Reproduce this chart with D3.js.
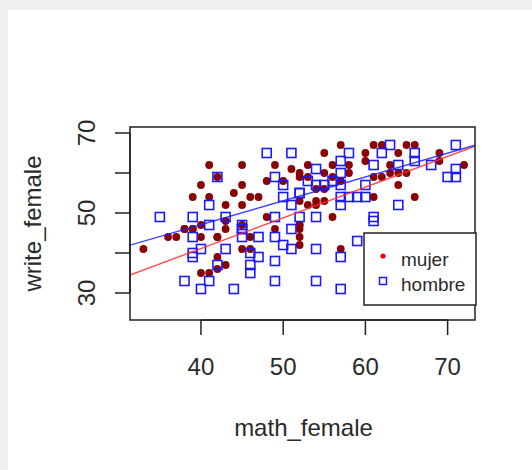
<!DOCTYPE html>
<html>
<head>
<meta charset="utf-8">
<script src="https://cdn.jsdelivr.net/npm/d3@7"></script>
<style>
  html, body { margin: 0; padding: 0; background: #efefef; }
  svg { display: block; }
  text { font-family: "Liberation Sans", Arial, sans-serif; fill: #2a2a2a; }
</style>
</head>
<body>
<script>
// ---- data ----
const mujerMath = [33,37,38,39,40,40,42,43,40,41,42,42,43,45,46,46,49,
  41,45,49,51,42,40,45,48,44,39,41,46,47,43,45,
  57,61,62,65,66,55,60,64,69,53,56,58,60,63,69,72,52,53,55,58,64,65,54,64,54,54,55,61,66,56,52,57,
  52,56,57,55,61,62,63,52,52,52,52,53,48,50,52,43,38,39,42,36,45];
const mujerWrite = [41,44,46,46,47,44,44,46,35,35,36,39,37,41,41,44,46,
  62,62,62,61,59,57,57,58,55,54,54,54,54,52,52,
  67,67,67,67,67,65,65,65,65,62,62,62,63,62,63,62,59,59,60,60,60,60,56,57,53,52,53,54,54,49,47,41,
  53,59,58,56,59,59,60,47,46,44,42,52,49,58,60,48,46,46,44,44,47];

const hombreMath = [48,51,42,49,50,52,41,35,39,43,49,45,51,
  63,71,58,62,66,57,61,64,66,68,54,57,70,71,71,54,57,60,55,52,57,58,59,60,57,64,61,54,52,
  39,39,40,39,38,40,41,42,43,44,45,45,46,46,46,47,47,49,49,49,50,51,51,
  54,57,59,54,57,61,41,45,53,56,50];
const hombreWrite = [65,65,59,59,57,55,52,49,49,49,49,47,52,
  67,67,65,65,65,63,62,62,63,62,61,60,59,59,61,57,57,57,57,55,54,54,54,54,52,52,49,49,49,
  44,40,41,39,33,31,33,37,41,31,46,44,40,37,35,44,39,44,38,33,42,41,46,
  41,39,43,33,31,48,47,46,58,58,54];

// regression lines (intercept, slope)
const lineGroups = ["mujer", "hombre"];
const lineIntercepts = [10.4, 23.3];
const lineSlopes = [0.768, 0.595];

const xTicks = [40, 50, 60, 70];
const yTicks = [30, 40, 50, 60, 70];
const yTickLabels = ["30", "", "50", "", "70"];
const legendLabels = ["mujer", "hombre"];

// ---- layout ----
const W = 532, H = 470;
const FS = 24;
const svg = d3.select("body").append("svg").attr("width", W).attr("height", H);
svg.append("rect").attr("width", W).attr("height", H).attr("fill", "#efefef");
svg.append("rect").attr("x", 8).attr("y", 10).attr("width", W - 8).attr("height", H - 10).attr("fill", "#fff");

const L = 130, R = 475, T = 127, B = 320;
const x = d3.scaleLinear().domain([31.37, 73.33]).range([L, R]);
const y = d3.scaleLinear().domain([23.25, 71.5]).range([B, T]);

svg.append("clipPath").attr("id", "clip").append("rect")
  .attr("x", L).attr("y", T).attr("width", R - L).attr("height", B - T);

const plot = svg.append("g").attr("clip-path", "url(#clip)");

// mujer points
plot.selectAll("circle.m").data(d3.range(mujerMath.length)).join("circle")
  .attr("class", "m")
  .attr("cx", i => x(mujerMath[i])).attr("cy", i => y(mujerWrite[i]))
  .attr("r", 3.9).attr("fill", "#8b0000");

// hombre points
const s = 9;
plot.selectAll("rect.h").data(d3.range(hombreMath.length)).join("rect")
  .attr("class", "h")
  .attr("x", i => x(hombreMath[i]) - s / 2).attr("y", i => y(hombreWrite[i]) - s / 2)
  .attr("width", s).attr("height", s)
  .attr("fill", "none").attr("stroke", "#1a1aff").attr("stroke-width", 1.6);

// regression lines
const lineColors = ["#ff3030", "#2020ff"];
const xd = x.domain();
lineGroups.forEach((g, i) => {
  plot.append("line")
    .attr("x1", x(xd[0])).attr("y1", y(lineIntercepts[i] + lineSlopes[i] * xd[0]))
    .attr("x2", x(xd[1])).attr("y2", y(lineIntercepts[i] + lineSlopes[i] * xd[1]))
    .attr("stroke", lineColors[i]).attr("stroke-width", 1.4).attr("opacity", 0.85);
});

// box
svg.append("rect").attr("x", L).attr("y", T).attr("width", R - L).attr("height", B - T)
  .attr("fill", "none").attr("stroke", "#222").attr("stroke-width", 1.5);

// x axis
const xAxis = svg.append("g");
xAxis.append("line").attr("x1", x(xTicks[0])).attr("x2", x(xTicks[xTicks.length - 1]))
  .attr("y1", B).attr("y2", B).attr("stroke", "#222").attr("stroke-width", 1.5);
xTicks.forEach(t => {
  xAxis.append("line").attr("x1", x(t)).attr("x2", x(t)).attr("y1", B).attr("y2", B + 15)
    .attr("stroke", "#222").attr("stroke-width", 1.5);
  xAxis.append("text").attr("x", x(t)).attr("y", 375).attr("text-anchor", "middle")
    .attr("font-size", FS).text(t);
});
svg.append("text").attr("x", (L + R) / 2 + 1).attr("y", 436).attr("text-anchor", "middle")
  .attr("font-size", FS).text("math_female");

// y axis
const yAxis = svg.append("g");
yAxis.append("line").attr("y1", y(yTicks[0])).attr("y2", y(yTicks[yTicks.length - 1]))
  .attr("x1", L).attr("x2", L).attr("stroke", "#222").attr("stroke-width", 1.5);
yTicks.forEach((t, i) => {
  yAxis.append("line").attr("y1", y(t)).attr("y2", y(t)).attr("x1", L - 15).attr("x2", L)
    .attr("stroke", "#222").attr("stroke-width", 1.5);
  if (yTickLabels[i]) {
    yAxis.append("text").attr("transform", `translate(95,${y(t)}) rotate(-90)`)
      .attr("text-anchor", "middle").attr("font-size", FS).text(yTickLabels[i]);
  }
});
svg.append("text").attr("transform", `translate(41,${(T + B) / 2}) rotate(-90)`)
  .attr("text-anchor", "middle").attr("font-size", FS).text("write_female");

// legend
const lg = svg.append("g");
lg.append("rect").attr("x", 364).attr("y", 233).attr("width", 112).attr("height", 72)
  .attr("fill", "#fff").attr("stroke", "#222").attr("stroke-width", 1.5);
lg.append("circle").attr("cx", 383).attr("cy", 256).attr("r", 2.6).attr("fill", "#ee0000");
lg.append("rect").attr("x", 379.5).attr("y", 277.5).attr("width", 7).attr("height", 7)
  .attr("fill", "none").attr("stroke", "#1a1aff").attr("stroke-width", 1.5);
legendLabels.forEach((lab, i) => {
  lg.append("text").attr("x", 401).attr("y", 266 + i * 25).attr("font-size", 19).text(lab);
});
</script>
</body>
</html>
